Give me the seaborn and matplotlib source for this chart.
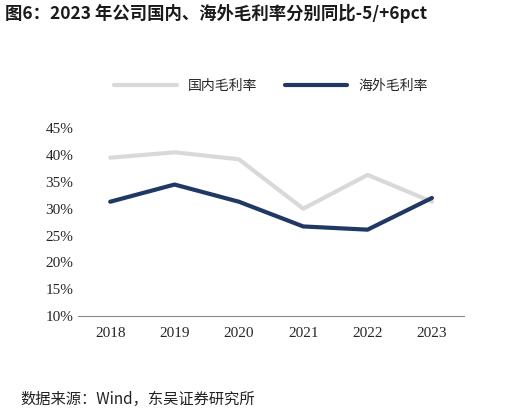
import matplotlib.pyplot as plt
import seaborn as sns
import pandas as pd

years = ["2018", "2019", "2020", "2021", "2022", "2023"]
domestic = [39.5, 40.5, 39.2, 30.0, 36.3, 31.3]
overseas = [31.3, 34.5, 31.3, 26.7, 26.1, 32.0]
yticks = [10, 15, 20, 25, 30, 35, 40, 45]

sns.set_style("white")
plt.rcParams['font.family'] = ['Noto Sans CJK SC', 'DejaVu Sans']

df = pd.DataFrame({"year": years * 2,
                   "value": domestic + overseas,
                   "series": ["国内毛利率"] * 6 + ["海外毛利率"] * 6})

fig = plt.figure(figsize=(5.1, 4.16), dpi=100)
ax = fig.add_axes([0.153, 0.24, 0.757, 0.452])
sns.lineplot(data=df, x="year", y="value", hue="series", sort=False,
             palette={"国内毛利率": "#d9d9d9", "海外毛利率": "#1f3864"},
             linewidth=3, ax=ax)

ax.set_ylim(10, 45)
ax.set_yticks(yticks)
ax.set_yticklabels([f"{v}%" for v in yticks], family=['Liberation Serif'], fontsize=11)
for lab in ax.get_xticklabels():
    lab.set_family('Liberation Serif')
    lab.set_fontsize(11)
ax.set_xlim(-0.5, 5.5)
ax.set_xlabel("")
ax.set_ylabel("")
for s in ["top", "right", "left"]:
    ax.spines[s].set_visible(False)
ax.spines["bottom"].set_color("#888888")
ax.tick_params(axis="x", length=0, pad=8)
ax.tick_params(axis="y", length=0)

ax.legend(loc="lower center", bbox_to_anchor=(0.5, 1.12), ncol=2, frameon=False,
          fontsize=10, handlelength=4.5, columnspacing=2)

fig.text(0.01, 0.955, "图6：2023 年公司国内、海外毛利率分别同比-5/+6pct",
         fontsize=12.5, fontweight="bold", color="#1a1a1a")
fig.text(0.04, 0.03, "数据来源：Wind，东吴证券研究所", fontsize=11, color="#222222")

fig.savefig("out.png", dpi=100)
